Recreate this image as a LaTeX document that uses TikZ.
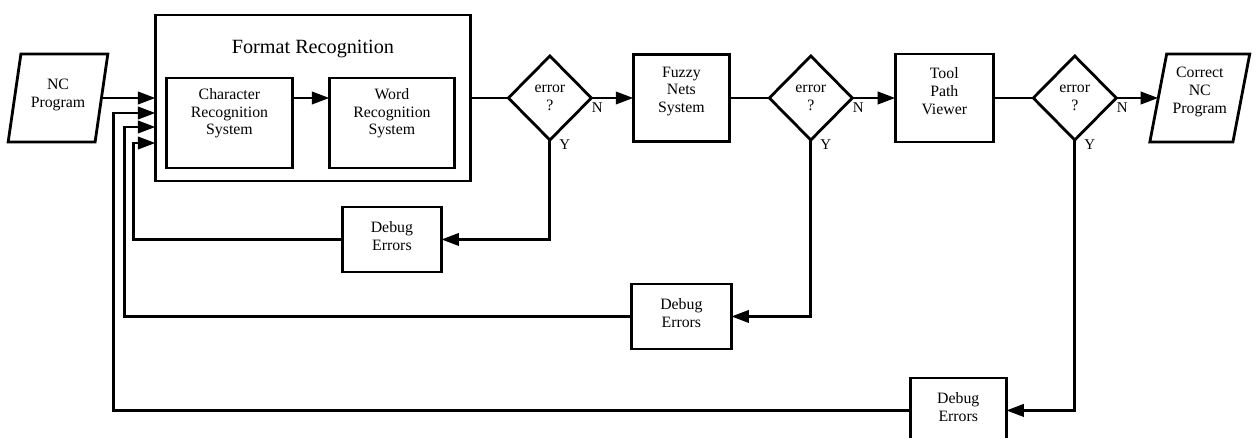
\documentclass[tikz,border=0pt]{standalone}
\usepackage{fontspec}
\setmainfont{Liberation Serif}
\usetikzlibrary{shapes.geometric, arrows.meta, positioning, calc}
\tikzset{
  block/.style={
    rectangle, draw, line width=1.5pt,
    align=center, inner sep=2pt, outer sep=0pt,
    font=\fontsize{9}{10}\selectfont
  },
  decision/.style={
    diamond, draw, line width=1.6pt,
    align=center, inner sep=0pt, outer sep=0pt,
    minimum width=1.66cm, minimum height=1.68cm,
    font=\fontsize{9}{10}\selectfont
  },
  io/.style={
    trapezium, trapezium left angle=77, trapezium right angle=103,
    trapezium stretches=true, draw, line width=1.6pt, outer sep=0pt,
    align=center, minimum width=2cm, minimum height=1.76cm,
    font=\fontsize{9}{10}\selectfont
  },
  debug/.style={
    block, minimum width=1.98cm, minimum height=1.3cm, text depth=4pt
  },
  yn/.style={font=\fontsize{8.5}{10}\selectfont, inner sep=0pt},
  line/.style={draw, line width=1.6pt, -{Triangle[length=10pt, width=7pt]}},
  wire/.style={draw, line width=1.6pt},
}

\begin{document}
\begin{tikzpicture}[x=0.02cm, y=-0.02cm]
  \useasboundingbox (0,0) rectangle (1256,438);

  % Main chain
  \node[io, text depth=5.4pt] (nc) at (58,98) {NC\\Program};
  \node[block, minimum width=6.3cm, minimum height=3.32cm,
    right=1.08cm of nc] (fmt) {};
  \node[font=\fontsize{11.5}{13}\selectfont, inner sep=0pt,
    below=0.5cm of fmt.north] (fmttitle) {Format Recognition};
  \node[block, minimum width=2.52cm, minimum height=1.8cm, text depth=13pt,
    above right=0.26cm and 0.22cm of fmt.south west] (char) {Character\\Recognition\\System};
  \node[block, minimum width=2.5cm, minimum height=1.8cm, text depth=13pt,
    right=0.74cm of char] (word) {Word\\Recognition\\System};

  \node[decision, right=0.76cm of fmt] (dia1) {error\\?};
  \node[block, minimum width=1.92cm, minimum height=1.74cm, text depth=9.4pt,
    right=0.84cm of dia1] (fuzzy) {Fuzzy\\Nets\\System};
  \node[decision, right=0.8cm of fuzzy] (dia2) {error\\?};
  \node[block, minimum width=1.96cm, minimum height=1.76cm, text depth=8pt,
    right=0.86cm of dia2] (tool) {Tool\\Path\\Viewer};
  \node[decision, right=0.8cm of tool] (dia3) {error\\?};
  \node[io, text depth=8.8pt, right=0.84cm of dia3] (correct) {Correct\\NC\\Program};

  % Debug boxes
  \node[debug, below=0.78cm of word] (dbg1) {Debug\\Errors};
  \node[debug, minimum width=2cm, below=2.85cm of fuzzy] (dbg2) {Debug\\Errors};
  \node[debug, minimum width=1.92cm, below=4.72cm of tool, xshift=0.28cm] (dbg3) {Debug\\Errors};

  % N / Y labels
  \node[yn] (n1) at ($(dia1.east)+(6,10)$) {N};
  \node[yn] (y1) at ($(dia1.south)+(15,5)$) {Y};
  \node[yn] (n2) at ($(dia2.east)+(6,10)$) {N};
  \node[yn] (y2) at ($(dia2.south)+(15,5)$) {Y};
  \node[yn] (n3) at ($(dia3.east)+(6,10)$) {N};
  \node[yn] (y3) at ($(dia3.south)+(15,5)$) {Y};

  % Arrows
  \draw[line] (nc.east) -- (nc.east -| fmt.west);
  \draw[line] (char.east |- nc.east) -- (word.west |- nc.east);
  \draw[wire] (fmt.east) -- (dia1.west);
  \draw[line] (dia1.east) -- (fuzzy.west);
  \draw[wire] (fuzzy.east) -- (dia2.west);
  \draw[line] (dia2.east) -- (tool.west);
  \draw[wire] (tool.east) -- (dia3.west);
  \draw[line] (dia3.east) -- (correct.west);

  % Feedback loops
  \draw[line] (dia1.south) |- (dbg1.east);
  \draw[line] (dia2.south) |- (dbg2.east);
  \draw[line] (dia3.south) |- (dbg3.east);
  \coordinate (in1) at ($(fmt.west)+(0,45)$);
  \coordinate (in2) at ($(fmt.west)+(0,29)$);
  \coordinate (in3) at ($(fmt.west)+(0,15)$);
  \draw[line] (dbg1.west) -| ($(in1)+(-22,0)$) -- (in1);
  \draw[line] (dbg2.west) -| ($(in2)+(-31,0)$) -- (in2);
  \draw[line] (dbg3.west) -| ($(in3)+(-42,0)$) -- (in3);
\end{tikzpicture}
\end{document}
